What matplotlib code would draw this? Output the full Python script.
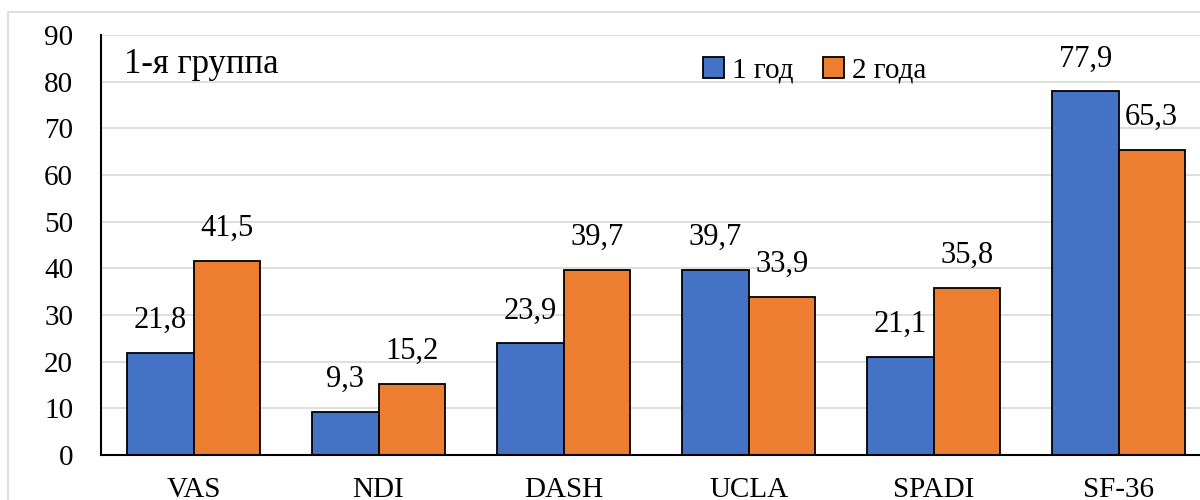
import numpy as np
import matplotlib.pyplot as plt
from matplotlib.patches import Rectangle

categories = ['VAS', 'NDI', 'DASH', 'UCLA', 'SPADI', 'SF-36']
year1 = [21.8, 9.3, 23.9, 39.7, 21.1, 77.9]
year2 = [41.5, 15.2, 39.7, 33.9, 35.8, 65.3]
series_names = ['1 год', '2 года']
title = '1-я группа'

plt.rcParams['font.family'] = ['Liberation Serif', 'DejaVu Serif']
fs = 21

fig = plt.figure(figsize=(12, 5), dpi=100)
# outer chart border (light gray)
fig.patches.append(Rectangle((8 / 1200, -0.1), 1.2, 1 - 12 / 500 + 0.1,
                             transform=fig.transFigure, fill=False,
                             edgecolor='#d9d9d9', linewidth=1.2))
ax = fig.add_axes([101 / 1200, 45 / 500, 1110 / 1200, 420 / 500])

x = np.arange(len(categories))
w = 0.36
b1 = ax.bar(x - w / 2, year1, w, color='#4472C4', edgecolor='black', linewidth=1.3,
            label=series_names[0], zorder=3)
b2 = ax.bar(x + w / 2, year2, w, color='#ED7D31', edgecolor='black', linewidth=1.3,
            label=series_names[1], zorder=3)

for bars, vals in ((b1, year1), (b2, year2)):
    for r, v in zip(bars, vals):
        ax.annotate(f'{v:.1f}'.replace('.', ','),
                    (r.get_x() + r.get_width() / 2, v),
                    xytext=(0, 13), textcoords='offset points',
                    ha='center', va='bottom', fontsize=fs + 1)

ax.set_xlim(-0.5, len(categories) - 0.5)
ax.set_ylim(0, 90)
ax.set_yticks(range(0, 91, 10))
ax.set_xticks(x)
ax.set_xticklabels(categories)
ax.tick_params(axis='both', length=0, labelsize=fs)
ax.tick_params(axis='y', pad=20)
ax.tick_params(axis='x', pad=16)
ax.grid(axis='y', color='#d9d9d9', linewidth=1.2, zorder=0)
for s in ('top', 'right'):
    ax.spines[s].set_visible(False)
for s in ('left', 'bottom'):
    ax.spines[s].set_linewidth(1.5)
    ax.spines[s].set_zorder(4)

ax.text(0.021, 0.93, title, transform=ax.transAxes, fontsize=25,
        ha='left', va='center')
ax.legend(loc='center', bbox_to_anchor=(714 / 1110, 0.915), ncol=2, frameon=False,
          fontsize=fs, handlelength=0.7, handleheight=0.7, handletextpad=0.3,
          columnspacing=1.0)

fig.savefig('out.png', dpi=100)
